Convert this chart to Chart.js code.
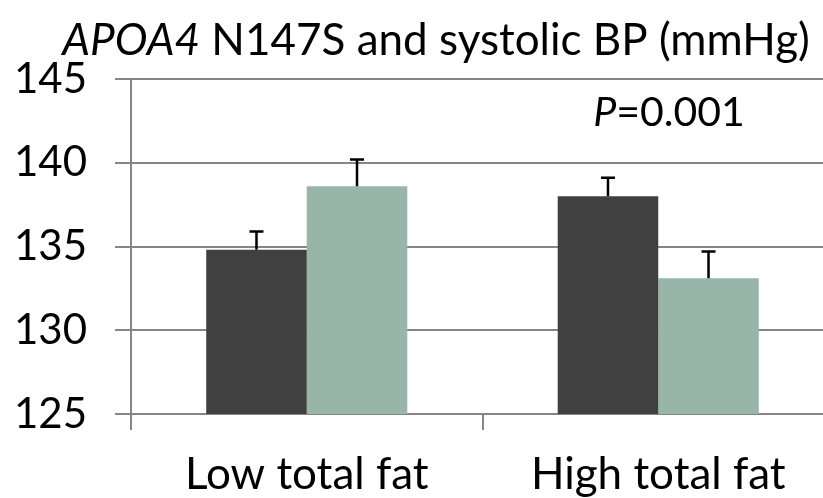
<!DOCTYPE html>
<html>
<head>
<meta charset="utf-8">
<script src="https://cdn.jsdelivr.net/npm/chart.js@4"></script>
<style>
  html, body { margin: 0; padding: 0; background: #fff; overflow: hidden; }
  #wrap { position: relative; width: 834px; height: 498px; }
</style>
</head>
<body>
<div id="wrap"><canvas id="myChart"></canvas></div>
<script>
// data
const categories = ['Low total fat', 'High total fat'];
const seriesA = [134.8, 138.0];   // dark bars
const seriesB = [138.6, 133.1];   // green bars
const errorsA = [1.1, 1.1];
const errorsB = [1.6, 1.6];
const yTicks = [125, 130, 135, 140, 145];

const fontName = 'Lato';

// draws the upward error bars
const errorBars = {
    id: 'errorBars',
    afterDatasetsDraw(chart) {
        const ctx = chart.ctx;
        const yScale = chart.scales.y;
        chart.data.datasets.forEach((ds, i) => {
            const meta = chart.getDatasetMeta(i);
            meta.data.forEach((bar, j) => {
                let top = yScale.getPixelForValue(ds.data[j] + ds.errors[j]);
                ctx.save();
                ctx.strokeStyle = '#000';
                ctx.lineWidth = 2.5;
                ctx.beginPath();
                ctx.moveTo(bar.x, bar.y);
                ctx.lineTo(bar.x, top);
                ctx.moveTo(bar.x - 7, top);
                ctx.lineTo(bar.x + 7, top);
                ctx.stroke();
                ctx.restore();
            });
        });
    }
};

// title with italic gene name and the P value note
const texts = {
    id: 'texts',
    afterDraw(chart) {
        const ctx = chart.ctx;
        ctx.save();
        ctx.fillStyle = '#000';
        ctx.textBaseline = 'alphabetic';
        // title
        let size = 44;
        ctx.font = 'italic ' + size + 'px ' + fontName;
        let part1 = 'APOA4';
        let w1 = ctx.measureText(part1).width;
        ctx.font = size + 'px ' + fontName;
        let part2 = ' N147S and systolic BP (mmHg)';
        let w2 = ctx.measureText(part2).width;
        let x = 436 - (w1 + w2) / 2;
        ctx.font = 'italic ' + size + 'px ' + fontName;
        ctx.fillText(part1, x, 55);
        ctx.font = size + 'px ' + fontName;
        ctx.fillText(part2, x + w1, 55);
        // P value
        size = 41;
        ctx.font = 'italic ' + size + 'px ' + fontName;
        let p1 = 'P';
        let pw1 = ctx.measureText(p1).width;
        ctx.font = size + 'px ' + fontName;
        let p2 = '=0.001';
        let pw2 = ctx.measureText(p2).width;
        let px = 669 - (pw1 + pw2) / 2;
        let py = chart.scales.y.getPixelForValue(142.2);
        ctx.font = 'italic ' + size + 'px ' + fontName;
        ctx.fillText(p1, px, py);
        ctx.font = size + 'px ' + fontName;
        ctx.fillText(p2, px + pw1, py);
        ctx.restore();
    }
};

let myChart = document.querySelector('#myChart').getContext('2d');
let bpChart = new Chart(myChart, {
    type: 'bar',
    data: {
        labels: categories,
        datasets: [{
            label: 'Series 1',
            data: seriesA,
            errors: errorsA,
            backgroundColor: '#404040',
            borderWidth: 0
        }, {
            label: 'Series 2',
            data: seriesB,
            errors: errorsB,
            backgroundColor: '#97b6a9',
            borderWidth: 0
        }]
    },
    options: {
        responsive: true,
        maintainAspectRatio: false,
        animation: false,
        layout: { padding: { top: 79, left: 0, right: 0, bottom: 0 } },
        plugins: {
            legend: { display: false },
            tooltip: { enabled: false }
        },
        datasets: {
            bar: { categoryPercentage: 0.572, barPercentage: 1 }
        },
        scales: {
            x: {
                grid: {
                    offset: true,
                    drawOnChartArea: false,
                    color: '#868686',
                    lineWidth: 2,
                    tickLength: 16
                },
                border: { display: false },
                ticks: {
                    color: '#000',
                    font: { family: fontName, size: 44 },
                    padding: 18
                },
                afterFit(scale) { scale.height = 84; }
            },
            y: {
                min: 125,
                max: 145,
                afterBuildTicks(scale) {
                    scale.ticks = yTicks.map(v => ({ value: v }));
                },
                grid: {
                    color: '#868686',
                    lineWidth: 2,
                    tickLength: 16
                },
                border: { color: '#868686', width: 2 },
                ticks: {
                    color: '#000',
                    font: { family: fontName, size: 42 },
                    padding: 28
                },
                afterFit(scale) { scale.width = 131; }
            }
        }
    },
    plugins: [errorBars, texts]
});
</script>
</body>
</html>
